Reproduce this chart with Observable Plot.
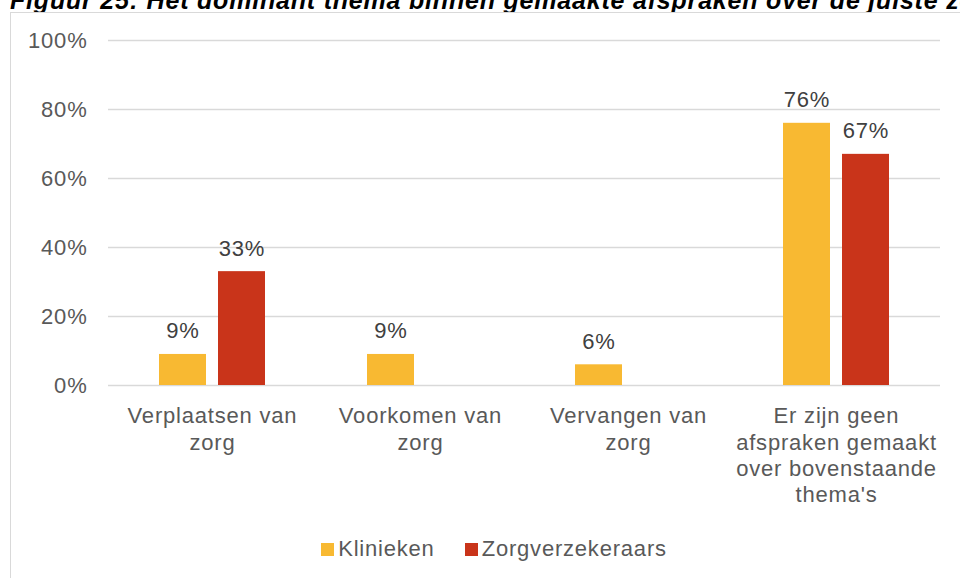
<!DOCTYPE html>
<html><head><meta charset="utf-8">
<script src="https://cdn.jsdelivr.net/npm/d3@7"></script>
<script src="https://cdn.jsdelivr.net/npm/@observablehq/plot@0.6"></script>
<style>
body{margin:0;background:#fff;font-family:"Liberation Sans",Arial,sans-serif;}
#wrap{position:relative;width:960px;height:578px;overflow:hidden;background:#fff;}
#title{position:absolute;left:10px;top:-12px;font-weight:bold;font-style:italic;font-size:25px;line-height:25px;letter-spacing:0.8px;white-space:nowrap;color:#000;}
#frame{position:absolute;left:10px;top:12px;width:1000px;height:700px;border:1px solid #d9d9d9;background:#fff;}
#chart{position:absolute;left:0;top:0;}
#legend{position:absolute;top:536px;left:0;width:960px;padding-left:28px;box-sizing:border-box;display:flex;justify-content:center;align-items:center;font-size:22px;letter-spacing:0.8px;color:#595959;}
.item{display:flex;align-items:center;margin:0 15px;}
.sw{width:13px;height:13px;margin-right:4px;}
</style></head>
<body>
<div id="wrap">
  <div id="title"></div>
  <div id="frame"></div>
  <div id="chart"></div>
  <div id="legend"></div>
</div>
<script>
const titleText = "Figuur 25: Het dominant thema binnen gemaakte afspraken over de juiste zorg";
const categories = ["Verplaatsen van zorg", "Voorkomen van zorg", "Vervangen van zorg", "Er zijn geen afspraken gemaakt over bovenstaande thema's"];
const categoryLabels = ["Verplaatsen van\nzorg", "Voorkomen van\nzorg", "Vervangen van\nzorg", "Er zijn geen\nafspraken gemaakt\nover bovenstaande\nthema's"];
const series = ["Klinieken", "Zorgverzekeraars"];
const klinieken = [9, 9, 6, 76];
const zorgverzekeraars = [33, null, null, 67];
const colors = ["#F8B932", "#C9341A"];
const yTicks = [0, 20, 40, 60, 80, 100];

document.getElementById("title").textContent = titleText;

const data = [];
categories.forEach((c, i) => {
  [klinieken, zorgverzekeraars].forEach((arr, j) => {
    if (arr[i] != null) data.push({category: c, series: series[j], value: arr[i]});
  });
});

const chart = Plot.plot({
  width: 960, height: 520,
  marginTop: 40, marginBottom: 135, marginLeft: 108, marginRight: 20,
  style: {fontFamily: "'Liberation Sans', Arial, sans-serif", background: "transparent", letterSpacing: "0.8px"},
  fx: {domain: categories, padding: 0, label: null},
  x: {domain: series, paddingInner: 0.2, paddingOuter: 0.86, axis: null},
  y: {domain: [0, 100], axis: null},
  color: {domain: series, range: colors},
  marks: [
    Plot.gridY(yTicks, {stroke: "#d9d9d9", strokeOpacity: 1, strokeWidth: 1.5}),
    Plot.axisY(yTicks, {tickSize: 0, tickPadding: 21, tickFormat: d => d + "%", fontSize: 22, fill: "#595959", label: null}),
    Plot.axisFx({anchor: "bottom", tickSize: 0, tickPadding: 19, fontSize: 22, lineHeight: 1.2, fill: "#595959",
      tickFormat: d => categoryLabels[categories.indexOf(d)], label: null}),
    Plot.barY(data, {fx: "category", x: "series", y: "value", fill: "series"}),
    Plot.text(data, {fx: "category", x: "series", y: "value", text: d => d.value + "%", lineAnchor: "bottom", dy: -16, fontSize: 22, fill: "#404040"})
  ]
});
document.getElementById("chart").appendChild(chart);

const legend = document.getElementById("legend");
series.forEach((s, i) => {
  const it = document.createElement("div");
  it.className = "item";
  const sw = document.createElement("div");
  sw.className = "sw";
  sw.style.background = colors[i];
  const t = document.createElement("span");
  t.textContent = s;
  it.appendChild(sw); it.appendChild(t);
  legend.appendChild(it);
});
</script>
</body></html>
